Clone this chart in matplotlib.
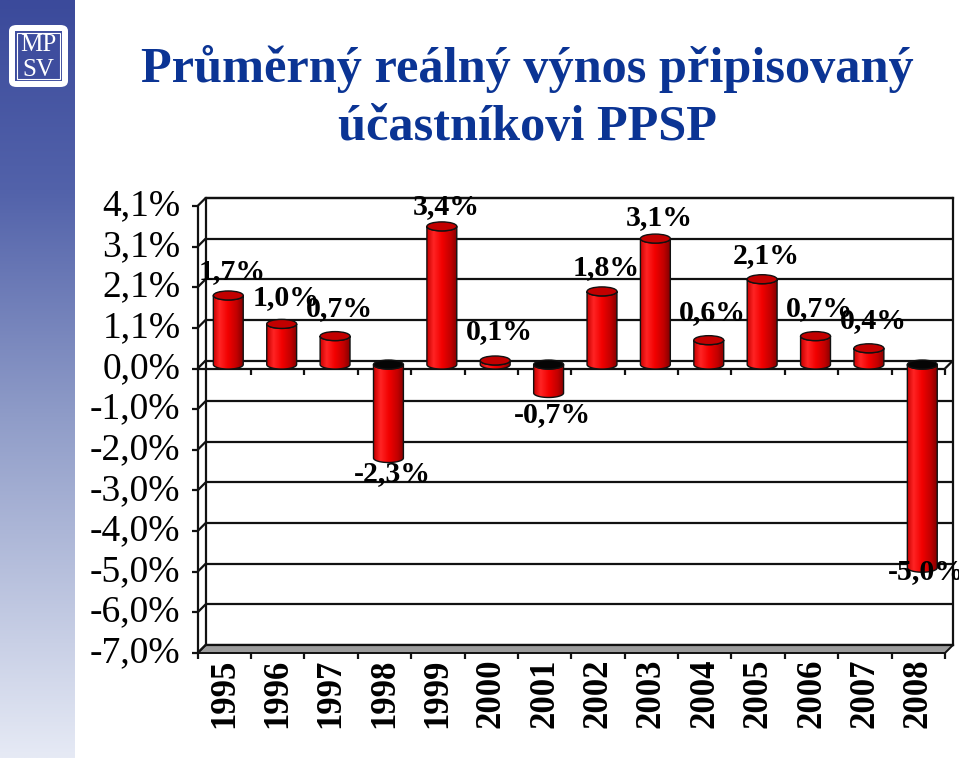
import numpy as np
import matplotlib
matplotlib.use('Agg')
import matplotlib.pyplot as plt
from matplotlib.patches import Polygon, Ellipse, FancyBboxPatch, Rectangle
from matplotlib.colors import LinearSegmentedColormap

# ---------------- data ----------------
years = ['1995', '1996', '1997', '1998', '1999', '2000', '2001',
         '2002', '2003', '2004', '2005', '2006', '2007', '2008']
values = [1.7, 1.0, 0.7, -2.3, 3.4, 0.1, -0.7, 1.8, 3.1, 0.6, 2.1, 0.7, 0.4, -5.0]
value_labels = ['1,7%', '1,0%', '0,7%', '-2,3%', '3,4%', '0,1%', '-0,7%',
                '1,8%', '3,1%', '0,6%', '2,1%', '0,7%', '0,4%', '-5,0%']
ytick_values = [4, 3, 2, 1, 0, -1, -2, -3, -4, -5, -6, -7]
ytick_labels = ['4,1%', '3,1%', '2,1%', '1,1%', '0,0%', '-1,0%', '-2,0%',
                '-3,0%', '-4,0%', '-5,0%', '-6,0%', '-7,0%']
title_lines = ['Průměrný reálný výnos připisovaný', 'účastníkovi PPSP']

# ---------------- figure ----------------
W, H = 959, 758
fig = plt.figure(figsize=(W / 100, H / 100), dpi=100)
fig.patch.set_facecolor('white')
SERIF = ['Liberation Serif', 'DejaVu Serif']
TITLE_COLOR = '#0b3494'

# left decorative strip
sax = fig.add_axes([0, 0, 75 / W, 1])
scmap = LinearSegmentedColormap.from_list(
    'strip', [(0, '#3b4a9b'), (0.25, '#5262aa'), (0.55, '#8f9cc8'), (1, '#e6eaf5')])
sax.imshow(np.linspace(0, 1, 256)[:, None], cmap=scmap, aspect='auto',
           extent=(0, 1, 1, 0), origin='upper')
sax.set_xlim(0, 1); sax.set_ylim(1, 0)
sax.axis('off')

# logo
fig.patches.append(FancyBboxPatch((9 / W, 1 - 87 / H), 59 / W, 62 / H,
                                  boxstyle='round,pad=0,rounding_size=0.008',
                                  transform=fig.transFigure, fc='white', ec='none'))
fig.patches.append(Rectangle((15 / W, 1 - 81 / H), 47 / W, 50 / H,
                             transform=fig.transFigure, fc='#3e4d9e', ec='none'))
fig.patches.append(Rectangle((17 / W, 1 - 79 / H), 43 / W, 46 / H,
                             transform=fig.transFigure, fc='none', ec='white', lw=0.8))
fig.text(38.5 / W, 1 - 51 / H, 'MP', color='white', family=SERIF, fontsize=18,
         ha='center', va='baseline')
fig.text(38.5 / W, 1 - 76 / H, 'SV', color='white', family=SERIF, fontsize=18,
         ha='center', va='baseline')

# title
fig.text(527 / W, 1 - 82 / H, title_lines[0], color=TITLE_COLOR, family=SERIF,
         fontsize=36.3, fontweight='bold', ha='center', va='baseline')
fig.text(527 / W, 1 - 140 / H, title_lines[1], color=TITLE_COLOR, family=SERIF,
         fontsize=36.3, fontweight='bold', ha='center', va='baseline')

# ---------------- chart (back wall) ----------------
L, R, T, B = 205.6, 953.0, 198.0, 645.0
ax = fig.add_axes([L / W, 1 - B / H, (R - L) / W, (B - T) / H])
n = len(years)
ax.set_xlim(-0.5, n - 0.5)
ax.set_ylim(min(ytick_values), max(ytick_values))
ax.set_autoscale_on(False)
ax.set_xticks([]); ax.set_yticks([])
ax.set_facecolor('white')
for s in ax.spines.values():
    s.set_color('#111111'); s.set_linewidth(1.6)

px_x = ax.bbox.width / n
px_y = ax.bbox.height / (max(ytick_values) - min(ytick_values))
D = 8.0
fdx, fdy = D / px_x, D / px_y
x0, x1 = -0.5, n - 0.5
ymin, ymax = min(ytick_values), max(ytick_values)
LK = dict(color='#111111', lw=1.6, clip_on=False, solid_capstyle='butt')

for y in ytick_values:
    ax.plot([x0, x1], [y, y], zorder=1, **LK)
    # side wall connector + tick
    ax.plot([x0, x0 - fdx], [y, y - fdy], zorder=3, **LK)
    ax.plot([x0 - fdx, x0 - fdx - 6 / px_x], [y - fdy, y - fdy], zorder=3, **LK)
# front vertical axis
ax.plot([x0 - fdx, x0 - fdx], [ymax - fdy, ymin - fdy], zorder=3, **LK)

# floor
floor = Polygon([(x0, ymin), (x1, ymin), (x1 - fdx, ymin - fdy), (x0 - fdx, ymin - fdy)],
                closed=True, fc='#9c9c9c', ec='#111111', lw=1.4, clip_on=False, zorder=2)
ax.add_patch(floor)
for k in range(n + 1):
    xf = k - 0.5 - fdx
    ax.plot([xf, xf], [ymin - fdy, ymin - fdy - 6 / px_y], zorder=3, **LK)

# zero plane front edge with category ticks
ax.plot([x0 - fdx, x1 - fdx], [-fdy, -fdy], zorder=3, **LK)
ax.plot([x1, x1 - fdx], [0, -fdy], zorder=3, **LK)
for k in range(1, n + 1):
    xf = k - 0.5 - fdx
    ax.plot([xf, xf], [-fdy, -fdy - 6 / px_y], zorder=3, **LK)

# ---------------- cylinders ----------------
cmap = LinearSegmentedColormap.from_list(
    'cyl', [(0, '#c80000'), (0.22, '#ff2424'), (0.5, '#f20000'), (0.8, '#c00000'), (1, '#850000')])
grad = np.linspace(0, 1, 256)[None, :]
w = 0.56
a = w / 2
b = 4.5 / px_y
t = np.linspace(np.pi, 2 * np.pi, 60)

for i, v in enumerate(values):
    cx = i - fdx / 2
    base = 0 - fdy / 2
    end = v - fdy / 2
    top, bot = max(base, end), min(base, end)
    arc_bot = np.column_stack([cx + a * np.cos(t), bot + b * np.sin(t)])
    arc_top = np.column_stack([cx + a * np.cos(t[::-1]), top + b * np.sin(t[::-1])])
    verts = np.vstack([[[cx - a, top], [cx - a, bot]], arc_bot, [[cx + a, top]], arc_top])
    body = Polygon(verts, closed=True, fc='none', ec='#111111', lw=1.0, zorder=6, clip_on=False)
    ax.add_patch(body)
    im = ax.imshow(grad, cmap=cmap, extent=(cx - a, cx + a, bot - b, top + b),
                   aspect='auto', origin='lower', zorder=5, interpolation='bilinear')
    im.set_clip_path(body)
    cap_color = '#c20000' if v >= 0 else '#050505'
    ax.add_patch(Ellipse((cx, top), 2 * a, 2 * b, fc=cap_color, ec='#111111', lw=1.0,
                         zorder=7, clip_on=False))

    # value label
    if v >= 0:
        dy = 25 - 2.7 * v
    else:
        dy = -(28.5 - 4.1 * abs(v))
    ax.annotate(value_labels[i], xy=(i, v), xytext=(0, dy * 0.72),
                textcoords='offset points', ha='center', va='center',
                fontsize=21.5, fontweight='bold', family=SERIF, zorder=10,
                annotation_clip=False)

ax.set_xlim(x0, x1)
ax.set_ylim(ymin, ymax)

# y tick labels (front plane)
for y, lbl in zip(ytick_values, ytick_labels):
    ax.text(x0 - fdx - 17 / px_x, y - fdy, lbl, ha='right', va='center',
            fontsize=27, family=SERIF, clip_on=False)

# year labels
for i, yr in enumerate(years):
    ax.text(i - fdx, ymin - fdy - 6 / px_y, yr, rotation=90, ha='center', va='top',
            fontsize=25, fontweight='bold', family=SERIF, clip_on=False)

fig.savefig('out.png', dpi=100, facecolor='white')
